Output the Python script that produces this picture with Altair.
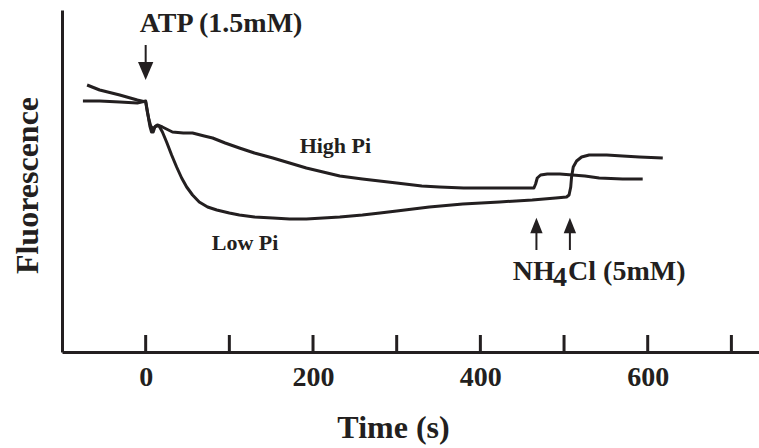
import altair as alt
import pandas as pd

# ---- data (time in s, fluorescence in arbitrary units) ----
high_t = [-75, -55, -31, -10, 0, 1, 3, 5, 7, 9, 11, 14, 20, 32, 45, 56, 70, 80, 95, 112, 130,
          152, 172, 192, 212, 232, 259, 300, 330, 351, 380, 400, 430, 464, 466, 468, 472, 480,
          495, 510, 525, 542, 570, 594]
high_f = [251, 251, 250, 249, 251, 246, 236, 226, 220, 220, 225, 227, 225, 220, 219, 219, 216, 214,
          209, 204, 199, 194, 189, 184, 180, 176, 173, 169, 166, 165, 164, 164, 164, 164, 168, 174,
          177, 178, 178, 177, 176, 174, 173, 173]

low_t = [-70, -55, -31, -10, 0, 2, 4, 6, 9, 12, 16, 20, 25, 31, 37, 43, 49, 56, 64, 74, 85, 100,
         112, 130, 152, 172, 192, 212, 232, 259, 280, 300, 339, 379, 423, 462, 490, 503, 506, 508,
         509, 511, 515, 521, 530, 551, 570, 590, 618]
low_f = [267, 262, 257, 252, 250, 240, 232, 226, 223, 226, 226, 220, 210, 197, 185, 174, 165, 157,
         150, 145, 142, 139, 137, 135, 134, 133, 133, 134, 135, 137, 139, 141, 145, 148, 150, 152,
         154, 155, 157, 165, 175, 185, 191, 195, 197, 197, 196, 195, 194]

tick_values = [0, 100, 200, 300, 400, 500, 600, 700]
label_values = [0, 200, 400, 600]

# annotations
note_text = ["ATP (1.5mM)", "High Pi", "Low Pi", "NH", "4", "Cl (5mM)"]
note_t = [-7.2, 184, 79, 438.6, 486.9, 504.8]
note_f = [320, 199, 102, 72, 66, 72]
note_size = [28, 22, 22, 28, 28, 28]

atp_arrow_t = [0]
atp_shaft = [307, 290]
atp_head_f = [281]

nh4_arrow_t = [467, 507]
nh4_shaft = [102, 119]
nh4_head_f = [126.5]

INK = "#231f20"
FONT = "Liberation Serif"

W, H = 697, 342

lines_df = pd.DataFrame(
    {"t": high_t + low_t, "f": high_f + low_f,
     "series": ["High Pi"] * len(high_t) + ["Low Pi"] * len(low_t)}
)

xscale = alt.Scale(domain=[-100, 733], nice=False, zero=False)
yscale = alt.Scale(domain=[0, 342], nice=False, zero=False)

x_axis = alt.Axis(
    values=label_values, ticks=False, grid=False, domainColor=INK, domainWidth=3,
    labelFont=FONT, labelFontWeight="bold", labelFontSize=28, labelColor=INK,
    labelBaseline="alphabetic", labelPadding=33, labelFlush=False,
    title="Time (s)", titleFont=FONT, titleFontWeight="bold", titleFontSize=32,
    titleColor=INK, titleBaseline="alphabetic", titleY=85, titleX=331,
)
y_axis = alt.Axis(
    labels=False, ticks=False, grid=False, domainColor=INK, domainWidth=3,
    title="Fluorescence", titleFont=FONT, titleFontWeight="bold", titleFontSize=32,
    titleColor=INK, titleBaseline="alphabetic", titleX=-25, titleY=175, titleAngle=270,
)

lines = alt.Chart(lines_df).mark_line(color=INK, strokeWidth=3, strokeJoin="round").encode(
    x=alt.X("t:Q", scale=xscale, axis=x_axis),
    y=alt.Y("f:Q", scale=yscale, axis=y_axis),
    detail="series:N",
)

ticks = alt.Chart(pd.DataFrame({"t": tick_values})).mark_rule(color=INK, strokeWidth=3).encode(
    x=alt.X("t:Q", scale=xscale),
    y=alt.value(H - 17),
    y2=alt.value(H),
)

notes_df = pd.DataFrame({"text": note_text, "t": note_t, "f": note_f, "size": note_size})
notes = alt.Chart(notes_df).mark_text(
    font=FONT, fontWeight="bold", color=INK, align="left", baseline="alphabetic"
).encode(
    x=alt.X("t:Q", scale=xscale),
    y=alt.Y("f:Q", scale=yscale),
    text="text:N",
    size=alt.Size("size:Q", scale=None, legend=None),
)

atp_shaft_r = alt.Chart(pd.DataFrame({"t": atp_arrow_t, "f1": [atp_shaft[0]], "f2": [atp_shaft[1]]})).mark_rule(
    color=INK, strokeWidth=2).encode(
    x=alt.X("t:Q", scale=xscale), y=alt.Y("f1:Q", scale=yscale), y2="f2:Q")
atp_head = alt.Chart(pd.DataFrame({"t": atp_arrow_t, "f": atp_head_f})).mark_point(
    shape="M-0.85,-1L0.85,-1L0,1Z", filled=True, color=INK, opacity=1, size=324).encode(
    x=alt.X("t:Q", scale=xscale), y=alt.Y("f:Q", scale=yscale))

nh4_shaft_r = alt.Chart(pd.DataFrame({"t": nh4_arrow_t, "f1": [nh4_shaft[0]] * 2, "f2": [nh4_shaft[1]] * 2})).mark_rule(
    color=INK, strokeWidth=2).encode(
    x=alt.X("t:Q", scale=xscale), y=alt.Y("f1:Q", scale=yscale), y2="f2:Q")
nh4_head = alt.Chart(pd.DataFrame({"t": nh4_arrow_t, "f": nh4_head_f * 2})).mark_point(
    shape="M0,-1L0.8,1L-0.8,1Z", filled=True, color=INK, opacity=1, size=240).encode(
    x=alt.X("t:Q", scale=xscale), y=alt.Y("f:Q", scale=yscale))

chart = alt.layer(
    lines, ticks, notes, atp_shaft_r, atp_head, nh4_shaft_r, nh4_head
).properties(
    width=W, height=H,
    autosize=alt.AutoSizeParams(type="none"),
    padding={"left": 62, "top": 10, "right": 0, "bottom": 96},
    background="white",
).configure_view(stroke=None)

chart.save("out.html", embed_options={"renderer": "svg", "actions": False})
